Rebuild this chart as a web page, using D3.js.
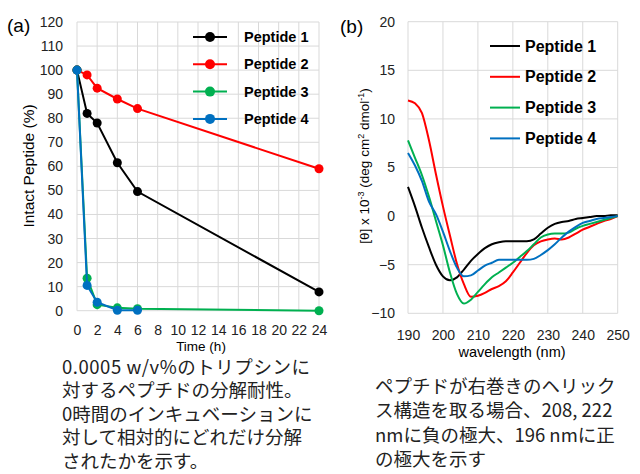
<!DOCTYPE html>
<html>
<head>
<meta charset="utf-8">
<script src="https://cdn.jsdelivr.net/npm/d3@7"></script>
<style>
  body { margin: 0; background: #fff; }
  svg { display: block; font-family: "Liberation Sans", Arial, sans-serif; }
  .grid line { stroke: #d9d9d9; stroke-width: 1; }
  .tick text { font-size: 14px; fill: #222; }
  .caption { font-family: "Noto Sans CJK JP", sans-serif; font-size: 18.5px; fill: #222; }
</style>
</head>
<body>
<div id="vis"></div>
<script>
'use strict'

// panel (a): trypsin digestion
const hours = [0, 1, 2, 4, 6, 24]
const intact1 = [100, 82, 78, 61.5, 49.5, 7.8]
const intact2 = [100, 98, 92.5, 88, 84, 59]
const intact3 = [100, 13.5, 2.5, 1.2, 0.8, 0]
const intact4 = [100, 10.5, 3.5, 0.2, 0.2]
const peptideNames = ['Peptide 1', 'Peptide 2', 'Peptide 3', 'Peptide 4']
const colors = ['#000000', '#ff0000', '#00b050', '#0070c0']
const hourTicks = d3.range(0, 25, 2)
const intactTicks = d3.range(0, 121, 10)

// panel (b): CD spectra
const wavelengths = d3.range(190, 251, 2)
const cd1 = [3.0, 1.0, -1.2, -3.2, -5.0, -6.2, -6.6, -6.3, -5.5, -4.6, -3.9, -3.3, -2.9, -2.7, -2.6, -2.6,
  -2.6, -2.6, -2.4, -1.8, -1.2, -0.8, -0.6, -0.5, -0.3, -0.2, -0.1, 0.0, 0.0, 0.1, 0.1]
const cd2 = [11.9, 11.6, 10.6, 7.8, 4.3, 1.0, -2.0, -4.9, -7.0, -8.3, -8.2, -7.9, -7.5, -7.2, -6.7, -5.8,
  -4.8, -3.8, -3.0, -2.6, -2.4, -2.3, -2.4, -2.2, -1.8, -1.4, -1.1, -0.8, -0.5, -0.3, 0.0]
const cd3 = [7.8, 6.0, 4.2, 2.0, -0.5, -3.0, -5.8, -8.0, -9.0, -8.6, -7.8, -7.0, -6.3, -5.8, -5.3, -4.8,
  -4.2, -3.6, -2.9, -2.2, -1.9, -1.8, -1.8, -1.7, -1.3, -1.0, -0.8, -0.6, -0.4, -0.2, 0.0]
const cd4 = [6.5, 5.2, 3.6, 1.5, 0.2, -1.6, -3.6, -5.3, -6.2, -6.1, -5.6, -5.1, -4.8, -4.5, -4.5, -4.5,
  -4.5, -4.5, -4.4, -4.0, -3.5, -2.9, -2.2, -1.6, -1.1, -0.7, -0.5, -0.3, -0.2, -0.1, 0.0]
const waveTicks = d3.range(190, 251, 10)
const cdTicks = d3.range(-10, 21, 5)

const captionA = ['0.0005 w/v%のトリプシンに', '対するペプチドの分解耐性。', '0時間のインキュベーションに',
  '対して相対的にどれだけ分解', 'されたかを示す。']
const captionB = ['ペプチドが右巻きのヘリック', 'ス構造を取る場合、208, 222', 'nmに負の極大、196 nmに正', 'の極大を示す']

const svg = d3.select('#vis').append('svg')
  .attr('width', 640)
  .attr('height', 474)

//
// PANEL A
//

const xa = d3.scaleLinear().domain([0, 24]).range([77, 319])
const ya = d3.scaleLinear().domain([0, 120]).range([310.7, 22])

const gA = svg.append('g')

gA.append('g').classed('grid', true)
  .selectAll('line').data(hourTicks).join('line')
    .attr('x1', d => xa(d)).attr('x2', d => xa(d))
    .attr('y1', ya(0)).attr('y2', ya(120))
gA.append('g').classed('grid', true)
  .selectAll('line').data(intactTicks).join('line')
    .attr('x1', xa(0)).attr('x2', xa(24))
    .attr('y1', d => ya(d)).attr('y2', d => ya(d))

gA.append('g')
  .attr('transform', 'translate(' + (xa(0) - 6) + ',0)')
  .call(d3.axisLeft(ya).tickValues(intactTicks).tickSize(0).tickPadding(8))
  .call(g => g.select('.domain').remove())

gA.append('g')
  .attr('transform', 'translate(0,' + (ya(0) + 6) + ')')
  .call(d3.axisBottom(xa).tickValues(hourTicks).tickSize(0).tickPadding(8))
  .call(g => g.select('.domain').remove())

const seriesA = [intact1, intact2, intact3, intact4].map((vals, i) => ({
  name: peptideNames[i],
  color: colors[i],
  points: vals.map((v, j) => ({ t: hours[j], v: v }))
}))

const lineA = d3.line().x(d => xa(d.t)).y(d => ya(d.v))

seriesA.forEach(s => {
  gA.append('path')
    .attr('d', lineA(s.points))
    .attr('fill', 'none')
    .attr('stroke', s.color)
    .attr('stroke-width', 2)
  gA.append('g').selectAll('circle').data(s.points).join('circle')
    .attr('cx', d => xa(d.t))
    .attr('cy', d => ya(d.v))
    .attr('r', 4.5)
    .attr('fill', s.color)
})

// legend a
seriesA.forEach((s, i) => {
  const y = 37 + i * 27.3
  gA.append('line')
    .attr('x1', 193).attr('x2', 227).attr('y1', y).attr('y2', y)
    .attr('stroke', s.color).attr('stroke-width', 2)
  gA.append('circle').attr('cx', 210).attr('cy', y).attr('r', 5).attr('fill', s.color)
  gA.append('text')
    .attr('x', 244).attr('y', y + 5)
    .attr('font-size', 14.5).attr('font-weight', 'bold')
    .text(s.name)
})

gA.append('text').attr('x', 7).attr('y', 32).attr('font-size', 19).text('(a)')

gA.append('text')
  .attr('transform', 'translate(34,166) rotate(-90)')
  .attr('text-anchor', 'middle')
  .attr('font-size', 15.5)
  .text('Intact Peptide (%)')

gA.append('text')
  .attr('x', 201).attr('y', 350.5)
  .attr('text-anchor', 'middle')
  .attr('font-size', 13.5)
  .text('Time (h)')

//
// PANEL B
//

const xb = d3.scaleLinear().domain([190, 250]).range([408, 617.7])
const yb = d3.scaleLinear().domain([-10, 20]).range([313.3, 21.7])

const gB = svg.append('g')

gB.append('g').classed('grid', true)
  .selectAll('line').data(waveTicks).join('line')
    .attr('x1', d => xb(d)).attr('x2', d => xb(d))
    .attr('y1', yb(-10)).attr('y2', yb(20))
gB.append('g').classed('grid', true)
  .selectAll('line').data(cdTicks).join('line')
    .attr('x1', xb(190)).attr('x2', xb(250))
    .attr('y1', d => yb(d)).attr('y2', d => yb(d))

gB.append('g')
  .attr('transform', 'translate(' + (xb(190) - 5) + ',0)')
  .call(d3.axisLeft(yb).tickValues(cdTicks).tickSize(0).tickPadding(8))
  .call(g => g.select('.domain').remove())

gB.append('g')
  .attr('transform', 'translate(0,' + (yb(-10) + 9) + ')')
  .call(d3.axisBottom(xb).tickValues(waveTicks).tickSize(0).tickPadding(8))
  .call(g => g.select('.domain').remove())

const seriesB = [cd1, cd2, cd3, cd4].map((vals, i) => ({
  name: peptideNames[i],
  color: colors[i],
  points: vals.map((v, j) => ({ w: wavelengths[j], v: v }))
}))

const lineB = d3.line().x(d => xb(d.w)).y(d => yb(d.v)).curve(d3.curveMonotoneX)

seriesB.forEach(s => {
  gB.append('path')
    .attr('d', lineB(s.points))
    .attr('fill', 'none')
    .attr('stroke', s.color)
    .attr('stroke-width', 2)
})

// legend b
seriesB.forEach((s, i) => {
  const y = 46 + i * 30.8
  gB.append('line')
    .attr('x1', 490).attr('x2', 520).attr('y1', y).attr('y2', y)
    .attr('stroke', s.color).attr('stroke-width', 2)
  gB.append('text')
    .attr('x', 525).attr('y', y + 5.5)
    .attr('font-size', 16).attr('font-weight', 'bold')
    .text(s.name)
})

gB.append('text').attr('x', 340).attr('y', 33).attr('font-size', 19).text('(b)')

const yLabelB = gB.append('text')
  .attr('transform', 'translate(369,166) rotate(-90)')
  .attr('text-anchor', 'middle')
  .attr('font-size', 13.5)
yLabelB.append('tspan').text('[θ] x 10')
yLabelB.append('tspan').attr('dy', -5).attr('font-size', 9).text('-3')
yLabelB.append('tspan').attr('dy', 5).text(' (deg cm')
yLabelB.append('tspan').attr('dy', -5).attr('font-size', 9).text('2')
yLabelB.append('tspan').attr('dy', 5).text(' dmol')
yLabelB.append('tspan').attr('dy', -5).attr('font-size', 9).text('-1')
yLabelB.append('tspan').attr('dy', 5).text(')')

gB.append('text')
  .attr('x', 512).attr('y', 357)
  .attr('text-anchor', 'middle')
  .attr('font-size', 14.5)
  .text('wavelength (nm)')

//
// CAPTIONS
//

svg.append('g').selectAll('text').data(captionA).join('text')
  .classed('caption', true)
  .attr('x', 62)
  .attr('y', (d, i) => 373.5 + i * 23.6)
  .attr('textLength', (d, i) => i === 0 ? 248 : null)
  .text(d => d)

svg.append('g').selectAll('text').data(captionB).join('text')
  .classed('caption', true)
  .attr('x', 375)
  .attr('y', (d, i) => 393 + i * 24.3)
  .text(d => d)
</script>
</body>
</html>
